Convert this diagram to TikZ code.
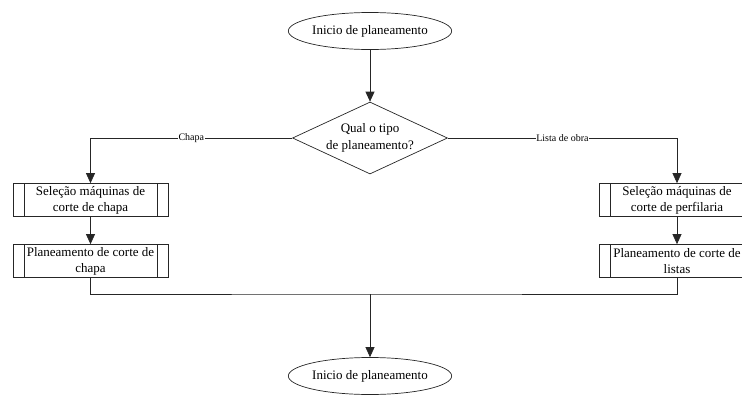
\documentclass[tikz,border=0pt]{standalone}
\usepackage{fontspec}
\setmainfont{Liberation Serif}
\usetikzlibrary{shapes.geometric,arrows.meta,calc}

\tikzset{
  line/.style={draw=black!85, line width=0.7pt},
  arrow/.style={line, -{Triangle[length=10pt,width=9pt]}},
  body/.style={font=\fontsize{13}{16}\selectfont, text=black, align=center},
  term/.style={body, ellipse, line, minimum width=158pt, minimum height=37pt, inner sep=0pt},
  decide/.style={body, diamond, line, aspect=2.15, minimum width=155pt, minimum height=72pt, inner sep=-4pt,
    font=\fontsize{13}{17}\selectfont},
  proc/.style={body, rectangle, line, minimum width=155pt, minimum height=33pt, inner sep=0pt,
    path picture={
      \draw[black!85, line width=0.7pt]
        ([xshift=11pt]path picture bounding box.north west) -- ([xshift=11pt]path picture bounding box.south west)
        ([xshift=-11pt]path picture bounding box.north east) -- ([xshift=-11pt]path picture bounding box.south east);
    }},
  tag/.style={font=\fontsize{10}{11}\selectfont, fill=white, inner sep=0.8pt, text=black}
}

\begin{document}
\begin{tikzpicture}[x=1pt, y=-1pt]
  \useasboundingbox (0,0) rectangle (742,394);
  \clip (0,0) rectangle (742,394);

  % terminals and decision
  \node[term]   (start) at (370,31)  {Inicio de planeamento};
  \node[decide] (kind)  at (370,138) {Qual o tipo\\de planeamento?};

  % left branch
  \node[proc] (selA)  at (90.5,200) {Seleção máquinas de\\corte de chapa};
  \node[proc] (planA) at (90.5,261) {Planeamento de corte de\\chapa};

  % right branch
  \node[proc] (selB)  at (677,200) {Seleção máquinas de\\corte de perfilaria};
  \node[proc] (planB) at (677,261) {Planeamento de corte de\\listas};

  \node[term] (stop) at (370,376) {Inicio de planeamento};

  \coordinate (join) at (370,294);

  % connectors
  \draw[arrow] (start) -- (kind);
  \draw[arrow] (kind.west) -| node[tag, pos=0.25] {Chapa} (selA.north);
  \draw[arrow] (kind.east) -| node[tag, pos=0.25] {Lista de obra} (selB.north);
  \draw[arrow] (selA) -- (planA);
  \draw[arrow] (selB) -- (planB);
  \draw[line] (planA.south) |- (join) -| (planB.south);
  \draw[arrow] (join) -- (stop.north);
\end{tikzpicture}
\end{document}
